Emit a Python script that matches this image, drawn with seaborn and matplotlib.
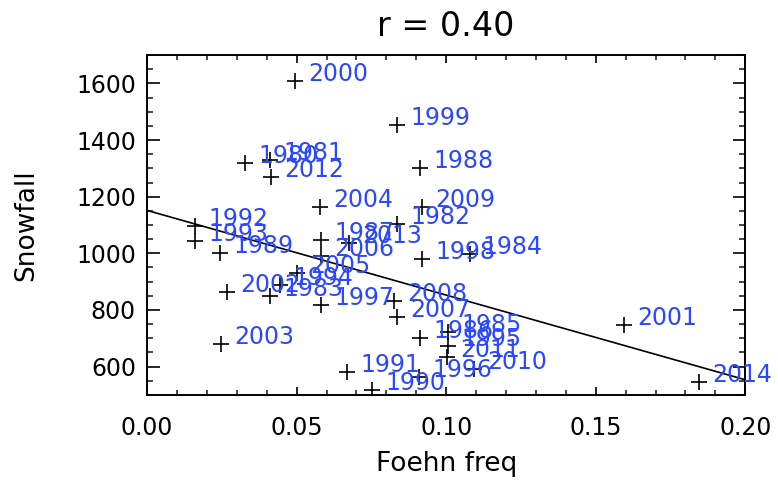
import numpy as np
import pandas as pd
import matplotlib
matplotlib.use("Agg")
import matplotlib.pyplot as plt
import seaborn as sns
from matplotlib.ticker import MultipleLocator, FormatStrFormatter

years = [1980, 1981, 1982, 1983, 1984, 1985, 1986, 1987, 1988, 1989,
         1990, 1991, 1992, 1993, 1994, 1995, 1996, 1997, 1998, 1999,
         2000, 2001, 2002, 2003, 2004, 2005, 2006, 2007, 2008, 2009,
         2010, 2011, 2012, 2013, 2014]
foehn_freq = [0.0328, 0.0412, 0.0837, 0.0412, 0.1078, 0.1006, 0.0912, 0.0582, 0.0912, 0.0244,
              0.0753, 0.0669, 0.0160, 0.0160, 0.0445, 0.1006, 0.0910, 0.0583, 0.0919, 0.0835,
              0.0496, 0.1593, 0.0266, 0.0247, 0.0577, 0.0502, 0.0583, 0.0835, 0.0826, 0.0918,
              0.1094, 0.1003, 0.0414, 0.0675, 0.1845]
snowfall = [1319, 1330, 1102, 850, 996, 723, 702, 1046, 1302, 1000,
            517, 581, 1096, 1043, 888, 674, 564, 818, 979, 1453,
            1607, 747, 862, 681, 1162, 930, 991, 774, 833, 1165,
            593, 635, 1271, 1038, 546]
title_text = "r = 0.40"

df = pd.DataFrame({"year": years, "foehn": foehn_freq, "snow": snowfall})

sns.set_theme(style="white")
plt.rcParams["font.family"] = ["DejaVu Sans"]

fig = plt.figure(figsize=(7.78, 4.87), dpi=100)
ax = fig.add_axes([0.189, 0.189, 0.769, 0.698])
ax.set_xlim(0.0, 0.2)
ax.set_ylim(500, 1700)

sns.regplot(data=df, x="foehn", y="snow", scatter=False, ci=None, truncate=False,
            color="black", line_kws={"linewidth": 1.2}, ax=ax)
sns.scatterplot(data=df, x="foehn", y="snow", marker="+", s=120, color="black",
                linewidth=1.2, ax=ax, zorder=3)

for yr, fx, sy in zip(years, foehn_freq, snowfall):
    ax.annotate(str(yr), (fx, sy), xytext=(9.5, 0), textcoords="offset points",
                va="baseline", ha="left", color="#2b47ff", fontsize=17, zorder=4)

ax.set_xlim(0.0, 0.2)
ax.set_ylim(500, 1700)
ax.xaxis.set_major_locator(MultipleLocator(0.05))
ax.xaxis.set_minor_locator(MultipleLocator(0.01))
ax.yaxis.set_major_locator(MultipleLocator(200))
ax.yaxis.set_minor_locator(MultipleLocator(50))
ax.xaxis.set_major_formatter(FormatStrFormatter("%.2f"))
ax.tick_params(axis="x", which="major", direction="in", length=6, width=1.2,
               top=True, bottom=True, labelsize=17, pad=15, colors="black")
ax.tick_params(axis="x", which="minor", direction="in", length=3.5, width=1.2,
               top=True, bottom=True)
ax.tick_params(axis="y", which="major", direction="in", length=9, width=1.2,
               left=True, right=True, labelsize=17, pad=8, colors="black")
ax.tick_params(axis="y", which="minor", direction="in", length=4.5, width=1.2,
               left=True, right=True)
for s in ax.spines.values():
    s.set_visible(True)
    s.set_color("black")
    s.set_linewidth(1.4)

ax.set_xlabel("Foehn freq", fontsize=19, color="black")
ax.set_ylabel("Snowfall", fontsize=19, color="black")
ax.xaxis.set_label_coords(0.5, -0.165)
ax.yaxis.set_label_coords(-0.18, 0.5)
ax.set_title(title_text, fontsize=24, pad=14, color="black")

fig.savefig("out.png", dpi=100, facecolor="white")
